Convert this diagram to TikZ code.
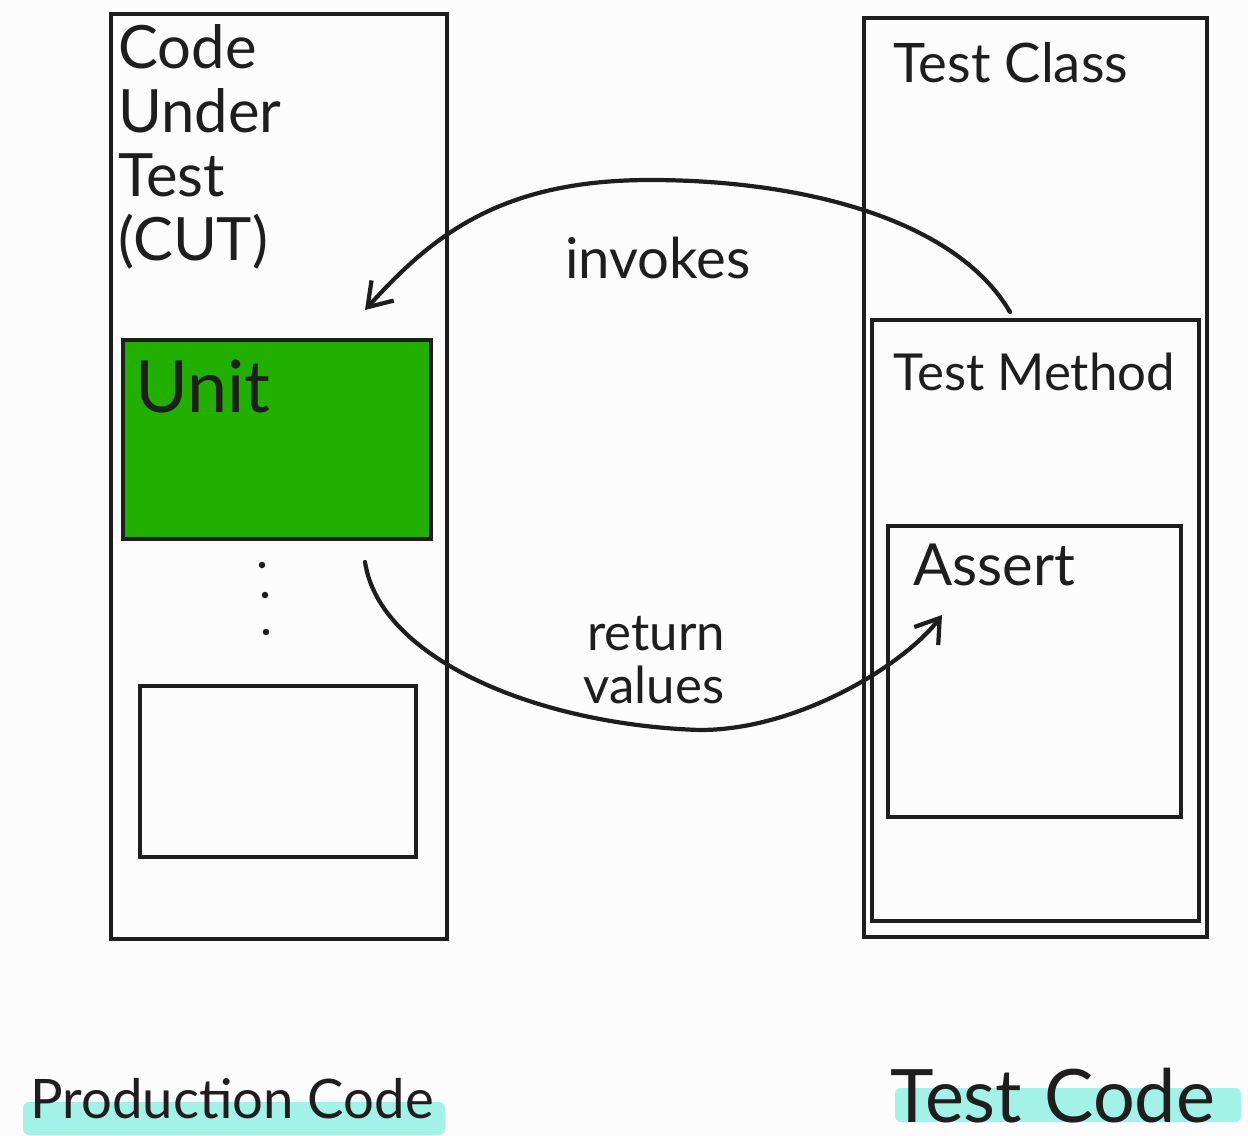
\documentclass[tikz,border=0pt]{standalone}
\usepackage{fontspec}
\setmainfont{Lato}
\usetikzlibrary{arrows.meta,fit}
\definecolor{ink}{HTML}{1E1E1E}
\definecolor{unitgreen}{HTML}{22B000}
\definecolor{hl}{HTML}{A2F2E7}
\definecolor{bg}{HTML}{FCFCFC}
\begin{document}
\begin{tikzpicture}[x=0.02cm,y=-0.02cm,
  box/.style={draw=ink, line width=2.5pt, inner sep=0pt},
  lbl/.style={text=ink, inner sep=0pt, anchor=base west},
  conn/.style={draw=ink, line width=2.4pt, line cap=round, line join=round,
    -{Straight Barb[length=0.45cm,width=0.6cm,line width=2.4pt]}},
  dotn/.style={circle, fill=ink, inner sep=0pt, minimum size=0.13cm},
  hilite/.style={fill=hl, rounded corners=0.12cm}]
\path[use as bounding box, fill=bg] (0,0) rectangle (1248,1136);

% highlights
\path[hilite] (23,1102) rectangle (445,1135);
\path[hilite] (895,1088) rectangle (1241,1122);

% boxes
\node[box, fit={(111,14) (447,939)}] (cut) {};
\node[box, fill=unitgreen, fit={(123,340) (431,539)}] (unit) {};
\node[box, fit={(140,686) (416,857)}] (other) {};
\node[box, fit={(864,18) (1207,937)}] (tclass) {};
\node[box, fit={(872,320) (1199,921)}] (tmethod) {};
\node[box, fit={(888,526) (1181,817)}] (assert) {};

% labels
\node[text=ink, inner sep=0pt, anchor=north west, align=left,
  font=\fontsize{34}{36.5}\selectfont] (cutlbl) at (118,24) {Code\\Under\\Test\\(CUT)};
\node[lbl, font=\fontsize{41}{45}\selectfont] (unitlbl) at (135,412) {Unit};
\node[lbl, font=\fontsize{31}{35}\selectfont] (tclasslbl) at (893,82) {Test Class};
\node[lbl, font=\fontsize{29}{33}\selectfont] (tmethodlbl) at (893,390) {Test Method};
\node[lbl, font=\fontsize{33}{37}\selectfont] (assertlbl) at (913,585) {Assert};
\node[text=ink, inner sep=0pt, anchor=base, font=\fontsize{32}{36}\selectfont] (invlbl) at (658,278) {invokes};
\node[text=ink, inner sep=0pt, anchor=base, font=\fontsize{29}{33}\selectfont] (retlbl) at (656,650) {return};
\node[text=ink, inner sep=0pt, anchor=base, font=\fontsize{29}{33}\selectfont] (vallbl) at (654,703) {values};
\node[lbl, font=\fontsize{31}{36}\selectfont] (prodlbl) at (30,1118) {Production Code};
\node[lbl, font=\fontsize{42}{46}\selectfont] (testlbl) at (890,1122) {Test\hspace{0.3em}Code};

% dots
\node[dotn] (d1) at (262,565) {};
\node[dotn] (d2) at (265,595) {};
\node[dotn] (d3) at (266,632) {};

% connectors
\coordinate (invs) at (1010,312);
\coordinate (invm) at (650,180);
\coordinate (inve) at (365,310);
\draw[conn] (invs) .. controls (955,218) and (800,180) .. (invm)
  .. controls (500,180) and (432,236) .. (inve);

\coordinate (rets) at (365,562);
\coordinate (retm) at (700,730);
\coordinate (rete) at (942,615);
\draw[conn] (rets) .. controls (380,660) and (540,725) .. (retm)
  .. controls (800,730) and (906,663) .. (rete);
\end{tikzpicture}
\end{document}
